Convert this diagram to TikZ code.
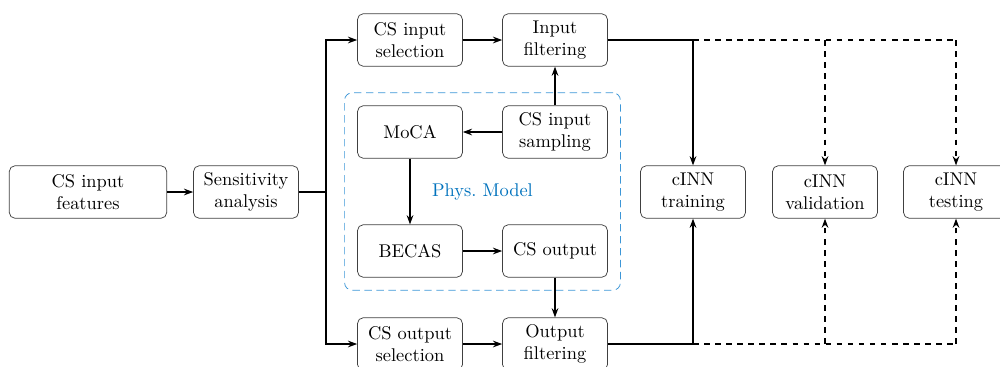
\documentclass[tikz,border=0pt]{standalone}
\usepackage{xcolor}
\usepackage{tikz}
\usetikzlibrary{arrows.meta,positioning,fit,calc}
\definecolor{physblue}{RGB}{0,114,189}
\definecolor{physdash}{RGB}{60,150,215}

\begin{document}
\begin{tikzpicture}[x=0.01908cm,y=-0.01908cm,
    block/.style={rectangle,draw=black!75,rounded corners=3pt,minimum width=2cm,minimum height=1cm,align=center,inner sep=2pt},
    link/.style={-{Stealth[length=5pt,width=3.6pt]},thick},
    dlink/.style={link,dashed}]
    \useasboundingbox (0,0) rectangle (1000,366);
    \clip (0,0) rectangle (1000,366);

    % Inputs
    \node[block,minimum width=3cm] (feat) at (88,192) {CS input\\features};
    \node[block] (sens) at (246,192) {Sensitivity\\analysis};

    % Upper branch
    \node[block] (insel) at (410,40) {CS input\\selection};
    \node[block] (infilt) at (555,40) {Input\\filtering};

    % Physical model
    \node[block] (moca) at (410,132) {MoCA};
    \node[block] (samp) at (555,132) {CS input\\sampling};
    \node[block] (becas) at (410,251) {BECAS};
    \node[block] (csout) at (555,251) {CS output};
    \node[draw=physdash,dash pattern=on 4pt off 2.5pt,rounded corners=4pt,inner sep=0.24cm,fit=(moca)(samp)(becas)(csout)] (phys) {};
    \node[text=physblue] (physlabel) at (phys.center) {Phys.\ Model};

    % Lower branch
    \node[block] (outsel) at (410,344) {CS output\\selection};
    \node[block] (outfilt) at (555,344) {Output\\filtering};

    % cINN
    \node[block] (train) at (693,192) {cINN\\training};
    \node[block] (valid) at (825,192) {cINN\\validation};
    \node[block] (test) at (956,192) {cINN\\testing};

    % Arrows
    \coordinate (split) at (326,192);
    \draw[link] (feat) -- (sens);
    \draw[thick] (sens) -- (split);
    \draw[link] (split) |- (insel);
    \draw[link] (split) |- (outsel);
    \foreach \i/\j in {insel/infilt, samp/moca, moca/becas, becas/csout, csout/outfilt, outsel/outfilt} {
        \draw[link] (\i) -- (\j);
    }
    \draw[link] (samp) -- (infilt);
    \draw[link] (infilt) -| (train);
    \draw[link] (outfilt) -| (train);

    % Dashed feeds
    \draw[thick,dashed] (train.north |- infilt.east) -- (test.north |- infilt.east);
    \draw[thick,dashed] (train.south |- outfilt.east) -- (test.south |- outfilt.east);
    \foreach \k in {valid, test} {
        \draw[dlink] (\k.north |- infilt.east) -- (\k.north);
        \draw[dlink] (\k.south |- outfilt.east) -- (\k.south);
    }
\end{tikzpicture}
\end{document}
